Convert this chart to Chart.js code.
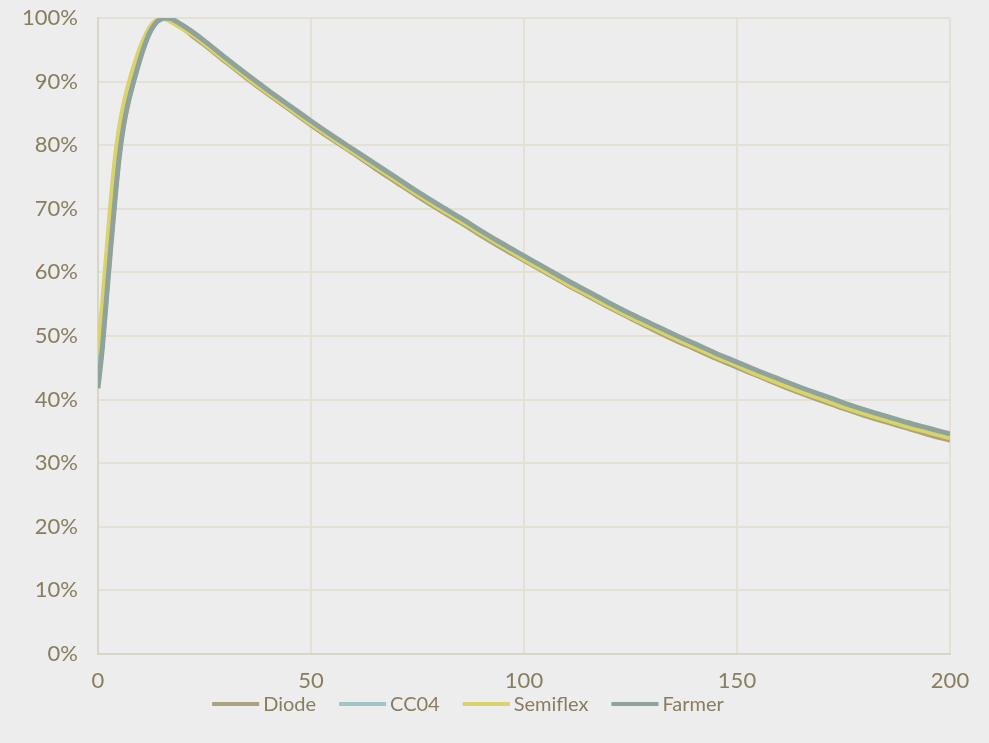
<!DOCTYPE html>
<html>
<head>
<meta charset="utf-8">
<title>Depth dose curves</title>
<script src="https://cdn.jsdelivr.net/npm/chart.js@4.4.1/dist/chart.umd.min.js"></script>
<style>
  html, body { margin: 0; padding: 0; background: #ededed; }
  canvas { display: block; }
</style>
</head>
<body>
<canvas id="pdd" width="989" height="743"></canvas>
<script>
// Depth (mm) at which each dose reading was taken
const depths = [0, 1, 2, 3, 4, 5, 6, 7, 8, 9, 10, 11, 12, 13, 14, 15, 16, 17, 18, 19, 20,
  22, 25, 30, 35, 40, 45, 50, 55, 60, 65, 70, 75, 80, 85, 90, 95, 100,
  105, 110, 115, 120, 125, 130, 135, 140, 145, 150, 155, 160, 165, 170, 175, 180, 185, 190, 195, 200];

// Relative dose (%) measured with each detector
const diode = [42.5, 48.8, 56.8, 64.8, 72.2, 78.8, 83.4, 86.7, 89.3, 91.8, 94.0, 96.0, 97.6, 98.8, 99.5, 99.9, 100, 99.7, 99.3, 98.9, 98.4,
  97.3, 95.8, 93.1, 90.5, 88.0, 85.6, 83.2, 80.9, 78.7, 76.4, 74.2, 72.0, 69.9, 67.9, 65.8, 63.8, 61.9,
  60.0, 58.1, 56.3, 54.5, 52.8, 51.1, 49.5, 48.0, 46.5, 45.1, 43.7, 42.3, 41.0, 39.8, 38.6, 37.5, 36.5, 35.5, 34.5, 33.6];
const cc04 = [43.0, 49.3, 57.3, 65.3, 72.7, 79.2, 83.8, 87.0, 89.6, 92.0, 94.2, 96.1, 97.7, 98.9, 99.6, 99.9, 100, 99.8, 99.5, 99.1, 98.7,
  97.7, 96.2, 93.5, 90.9, 88.4, 86.0, 83.6, 81.3, 79.1, 76.9, 74.7, 72.5, 70.4, 68.4, 66.3, 64.3, 62.4,
  60.5, 58.6, 56.8, 55.0, 53.3, 51.7, 50.1, 48.6, 47.1, 45.7, 44.3, 43.0, 41.7, 40.5, 39.3, 38.2, 37.2, 36.2, 35.3, 34.4];
const semiflex = [47.2, 54.5, 62.5, 70.6, 77.6, 82.6, 86.2, 89.0, 91.4, 93.5, 95.4, 97.0, 98.3, 99.2, 99.7, 100, 99.8, 99.5, 99.1, 98.7, 98.3,
  97.5, 96.0, 93.3, 90.7, 88.2, 85.8, 83.4, 81.1, 78.9, 76.7, 74.5, 72.3, 70.2, 68.2, 66.1, 64.1, 62.1,
  60.2, 58.3, 56.5, 54.7, 53.0, 51.4, 49.8, 48.3, 46.8, 45.4, 43.9, 42.6, 41.3, 40.1, 38.9, 37.8, 36.8, 35.8, 34.9, 34.0];
const farmer = [41.8, 48.0, 56.0, 64.0, 71.5, 78.2, 83.0, 86.4, 89.1, 91.5, 93.8, 95.8, 97.5, 98.7, 99.5, 99.9, 100, 99.9, 99.6, 99.2, 98.8,
  97.9, 96.4, 93.7, 91.1, 88.6, 86.2, 83.8, 81.5, 79.3, 77.1, 74.9, 72.7, 70.6, 68.6, 66.5, 64.5, 62.6,
  60.7, 58.8, 57.0, 55.2, 53.5, 51.9, 50.3, 48.8, 47.3, 45.9, 44.5, 43.2, 41.9, 40.7, 39.5, 38.4, 37.4, 36.4, 35.5, 34.6];

const seriesNames = ['Diode', 'CC04', 'Semiflex', 'Farmer'];
const seriesValues = [diode, cc04, semiflex, farmer];
const seriesColors = ['#aaa47a', '#9fc6c3', '#d9d36a', '#8ea39c'];

const TEXT = '#887d5e';
const FONT = 'Lato, "Noto Sans", sans-serif';

const datasets = seriesNames.map((name, i) => ({
  label: name,
  data: depths.map((d, k) => ({ x: d, y: seriesValues[i][k] })),
  borderColor: seriesColors[i],
  backgroundColor: seriesColors[i],
  borderWidth: 5,
  pointRadius: 0,
  cubicInterpolationMode: 'monotone',
  // later series are painted on top
  order: seriesNames.length - 1 - i
}));

// Legend: short line sample followed by the series name, centred below the plot
const lineLegend = {
  id: 'lineLegend',
  afterDraw(chart, args, opts) {
    const ctx = chart.ctx;
    ctx.save();
    ctx.font = opts.fontSize + 'px ' + FONT;
    ctx.textBaseline = 'middle';
    const items = chart.data.datasets.map(ds => ({
      text: ds.label, color: ds.borderColor, w: ctx.measureText(ds.label).width
    }));
    const total = items.reduce((s, it) => s + opts.sample + opts.gap + it.w, 0) + opts.spacing * (items.length - 1);
    let x = opts.centerX - total / 2;
    const y = opts.y;
    items.forEach(it => {
      ctx.fillStyle = it.color;
      ctx.fillRect(x, y - opts.thickness / 2, opts.sample, opts.thickness);
      x += opts.sample + opts.gap;
      ctx.fillStyle = TEXT;
      ctx.fillText(it.text, x, y + 1);
      x += it.w + opts.spacing;
    });
    ctx.restore();
  }
};

new Chart(document.getElementById('pdd'), {
  type: 'line',
  data: { datasets },
  plugins: [lineLegend],
  options: {
    responsive: false,
    animation: false,
    layout: { padding: { left: 0, right: 39, top: 18, bottom: 49 } },
    plugins: {
      legend: { display: false },
      tooltip: { enabled: false },
      lineLegend: { centerX: 468, y: 704, sample: 47, thickness: 4, gap: 4, spacing: 23, fontSize: 20 }
    },
    scales: {
      x: {
        type: 'linear',
        min: 0,
        max: 200,
        ticks: { stepSize: 50, color: TEXT, font: { family: FONT, size: 22 }, padding: 14, maxRotation: 0 },
        grid: { color: '#e4e0d6', lineWidth: 2, drawTicks: false },
        border: { display: true, color: '#d8d4c7', width: 2 },
        afterFit(scale) { scale.height = 40; }
      },
      y: {
        min: 0,
        max: 100,
        ticks: { stepSize: 10, color: TEXT, font: { family: FONT, size: 22 }, padding: 20, callback: v => v + '%' },
        grid: { color: '#e4e0d6', lineWidth: 2, drawTicks: false },
        border: { display: true, color: '#d8d4c7', width: 2 },
        afterFit(scale) {
          scale.width = 98;
          // let the outer layout padding alone decide the plot's top and bottom
          scale.paddingTop = 0;
          scale.paddingBottom = 0;
        }
      }
    }
  }
});
</script>
</body>
</html>
